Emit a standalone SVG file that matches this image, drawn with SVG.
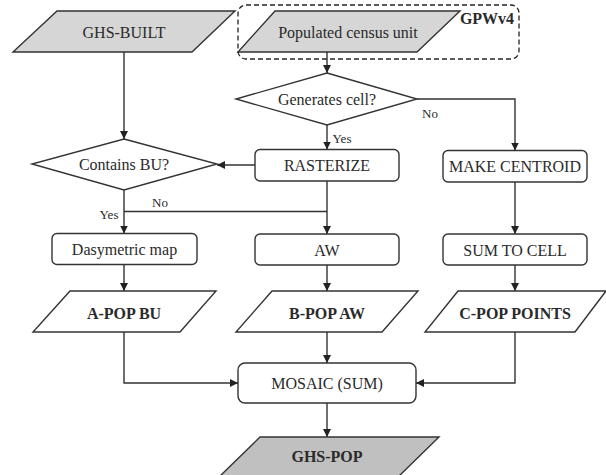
<svg xmlns="http://www.w3.org/2000/svg" width="606" height="475" viewBox="0 0 606 475" font-family="'Liberation Serif', 'DejaVu Serif', serif">
<defs>
<marker id="arr" viewBox="0 0 10 10" refX="10" refY="5" markerWidth="8" markerHeight="8" markerUnits="userSpaceOnUse" orient="auto">
<path d="M0,0 L10,5 L0,10 z" fill="#222"/>
</marker>
<style>
.shape{stroke:#333;stroke-width:1.4;fill:#fff}
.gray{fill:#d6d6d6}
.dark{fill:#c0c0c0}
.t{font-family:'Liberation Serif','Times New Roman',serif;font-size:16px;fill:#2a2a2a;text-anchor:middle}
.b{font-weight:bold}
.s{font-size:13px}
.c{fill:none;stroke:#333;stroke-width:1.4}
.dash{fill:none;stroke:#222;stroke-width:1.3;stroke-dasharray:5,3}
</style>
</defs>
<rect width="606" height="475" fill="#fff"/>

<g id="gpw-group">
<rect class="dash" x="238" y="5" width="281" height="54" rx="8"/>
<text class="t b" x="487" y="24" font-size="14.5">GPWv4</text>
</g>

<g id="ghs-built">
<polygon class="shape gray" points="57,11 235,11 192,52 13,52"/>
<text class="t" x="124" y="38">GHS-BUILT</text>
</g>

<g id="populated">
<polygon class="shape gray" points="275,11 460,11 417,52 238,52"/>
<text class="t" x="348" y="38">Populated census unit</text>
</g>

<g id="generates">
<polygon class="shape" points="327,73 417,99 327,125 236,99"/>
<text class="t" x="327" y="104.5">Generates cell?</text>
</g>

<g id="contains">
<polygon class="shape" points="124,139 217,164 124,190 32,164"/>
<text class="t" x="124" y="170">Contains BU?</text>
</g>

<g id="rasterize">
<rect class="shape" x="255" y="149.5" width="144" height="31.5" rx="5"/>
<text class="t" x="327" y="170.5">RASTERIZE</text>
</g>

<g id="centroid">
<rect class="shape" x="443" y="150.5" width="144" height="31.5" rx="5"/>
<text class="t" x="515" y="172">MAKE CENTROID</text>
</g>

<g id="dasymetric">
<rect class="shape" x="52" y="233.5" width="145" height="31" rx="5"/>
<text class="t" x="124.5" y="255">Dasymetric map</text>
</g>

<g id="aw">
<rect class="shape" x="255" y="234" width="144" height="31" rx="5"/>
<text class="t" x="327" y="255.5">AW</text>
</g>

<g id="sumcell">
<rect class="shape" x="443" y="234" width="144" height="31" rx="5"/>
<text class="t" x="515" y="255.5">SUM TO CELL</text>
</g>

<g id="apop">
<polygon class="shape" points="70,291 216,291 180,332 33,332"/>
<text class="t b" x="124" y="319">A-POP BU</text>
</g>

<g id="bpop">
<polygon class="shape" points="272,291 418,291 382,332 236,332"/>
<text class="t b" x="327" y="319">B-POP AW</text>
</g>

<g id="cpop">
<polygon class="shape" points="458,291 606,291 575,332 425,332"/>
<text class="t b" x="515" y="319">C-POP POINTS</text>
</g>

<g id="mosaic">
<rect class="shape" x="238" y="363" width="178" height="40" rx="7"/>
<text class="t" x="327" y="389">MOSAIC (SUM)</text>
</g>

<g id="ghspop">
<polygon class="shape dark" points="260,437 439,437 397,478 218,478"/>
<text class="t b" x="327" y="462">GHS-POP</text>
</g>

<g id="connectors">
<path class="c" d="M124,52 V139" marker-end="url(#arr)"/>
<path class="c" d="M327,52 V73" marker-end="url(#arr)"/>
<path class="c" d="M417,99 H515 V150.5" marker-end="url(#arr)"/>
<path class="c" d="M327,125 V149.5" marker-end="url(#arr)"/>
<path class="c" d="M255,165 H217" marker-end="url(#arr)"/>
<path class="c" d="M124,190 V233.5" marker-end="url(#arr)"/>
<path class="c" d="M124,211.5 H327"/>
<path class="c" d="M327,181 V234" marker-end="url(#arr)"/>
<path class="c" d="M515,182 V234" marker-end="url(#arr)"/>
<path class="c" d="M124,264.5 V291" marker-end="url(#arr)"/>
<path class="c" d="M327,265 V291" marker-end="url(#arr)"/>
<path class="c" d="M515,265 V291" marker-end="url(#arr)"/>
<path class="c" d="M124,332 V383 H238" marker-end="url(#arr)"/>
<path class="c" d="M327,332 V363" marker-end="url(#arr)"/>
<path class="c" d="M515,332 V383 H416" marker-end="url(#arr)"/>
<path class="c" d="M327,403 V437" marker-end="url(#arr)"/>
<text class="t s" x="430" y="117.5">No</text>
<text class="t s" x="342" y="142.5">Yes</text>
<text class="t s" x="160" y="207">No</text>
<text class="t s" x="109" y="218.5">Yes</text>
</g>
</svg>
